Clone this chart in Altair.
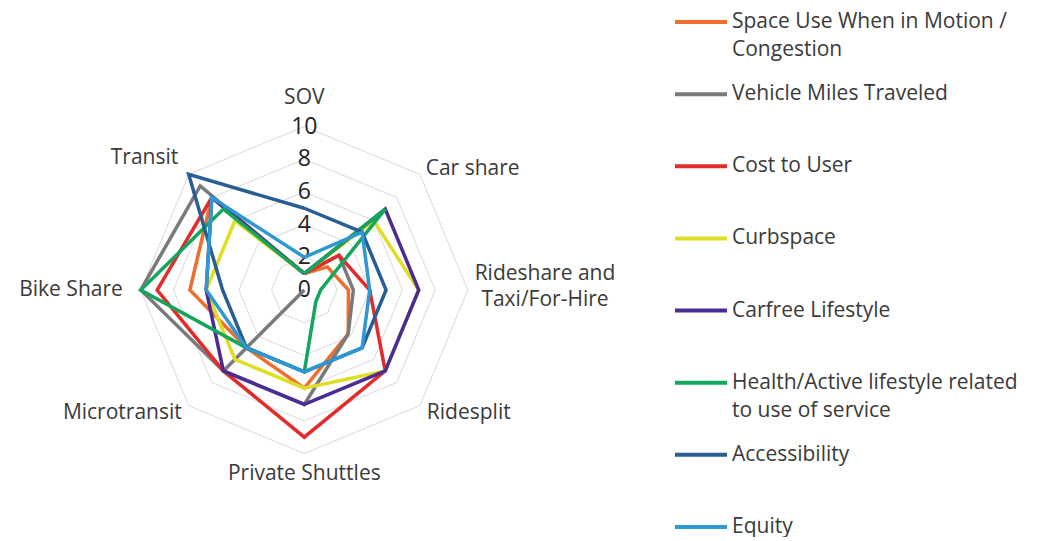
import altair as alt
import numpy as np
import pandas as pd

# ---------------- data ----------------
axes = ["SOV", "Car share", "Rideshare and\nTaxi/For-Hire", "Ridesplit",
        "Private Shuttles", "Microtransit", "Bike Share", "Transit"]

series = ["Space Use When in Motion / Congestion", "Vehicle Miles Traveled",
          "Cost to User", "Curbspace", "Carfree Lifestyle",
          "Health/Active lifestyle related to use of service",
          "Accessibility", "Equity"]
legend_line1 = ["Space Use When in Motion /", "Vehicle Miles Traveled", "Cost to User",
                "Curbspace", "Carfree Lifestyle", "Health/Active lifestyle related",
                "Accessibility", "Equity"]
legend_line2 = ["Congestion", "", "", "", "", "to use of service", "", ""]

space_use = [1, 2, 2.7, 3.8, 6, 5, 7, 8]
vmt = [1, 3, 3, 3.8, 7, 7, 10, 9]
cost_to_user = [1, 3, 4, 7, 9, 7, 9, 8]
curbspace = [1, 6, 7, 7, 6, 6, 6, 6]
carfree = [1, 7, 7, 7, 7, 7, 6, 8]
health = [1, 7, 1, 1, 5, 5, 10, 7]
accessibility = [5, 5, 5, 5, 5, 5, 5, 10]
equity = [2, 5, 4, 5, 5, 5, 6, 8]

ticks = [0, 2, 4, 6, 8, 10]

# ---------------- style ----------------
colors = ["#EE6F2D", "#7A7A7A", "#E32B2B", "#DEDE24", "#4B2B96",
          "#14A65C", "#295E92", "#2D98D4"]
TEXT = "#3a3a3a"
FONT = "Open Sans"
FS = 21
UNIT = 16.35           # px per value unit
W, H = 1027, 525
CX, CY = 296.3, 282.0  # centre of radar inside the view (px)

# label placement style: radius (value units), alignment, vertical nudge (px)
label_style = {
    "SOV": (11.75, "center", 0), "Car share": (10.5, "left", 0),
    "Rideshare and\nTaxi/For-Hire": (14.72, "center", -16), "Ridesplit": (10.6, "left", 0),
    "Private Shuttles": (11.25, "center", 0), "Microtransit": (10.6, "right", 0),
    "Bike Share": (11.1, "right", 0), "Transit": (10.9, "right", -6),
}

all_vals = [space_use, vmt, cost_to_user, curbspace, carfree, health, accessibility, equity]
n = len(axes)
theta = np.arange(n) * 2 * np.pi / n

rows = []
for s, vals in zip(series, all_vals):
    for k in range(n + 1):
        i = k % n
        rows.append({"series": s, "k": k, "r": vals[i],
                     "x": vals[i] * np.sin(theta[i]), "y": vals[i] * np.cos(theta[i])})
radar = pd.DataFrame(rows)

grid_rows = []
for v in ticks[1:]:
    for k in range(n + 1):
        i = k % n
        grid_rows.append({"ring": v, "k": k, "x": v * np.sin(theta[i]), "y": v * np.cos(theta[i])})
grid = pd.DataFrame(grid_rows)

# gray spoke from centre to VMT Microtransit point
mi = axes.index("Microtransit")
spoke = pd.DataFrame({"k": [0, 1], "series": series[1],
                      "x": [0, vmt[mi] * np.sin(theta[mi])],
                      "y": [0, vmt[mi] * np.cos(theta[mi])]})

tick_df = pd.DataFrame({"t": ticks, "x": [0] * len(ticks), "y": ticks})

leg = pd.DataFrame({"series": series, "l1": legend_line1, "l2": legend_line2,
                    "idx": list(range(len(series)))})

# ---------------- scales ----------------
xs = alt.Scale(domain=[-CX / UNIT, (W - CX) / UNIT], nice=False, zero=False)
ys = alt.Scale(domain=[-(H - CY) / UNIT, CY / UNIT], nice=False, zero=False)
cs = alt.Scale(domain=series, range=colors)

X = alt.X("x:Q", scale=xs, axis=None)
Y = alt.Y("y:Q", scale=ys, axis=None)

grid_layer = alt.Chart(grid).mark_line(color="#d9d9d9", strokeWidth=1).encode(
    x=X, y=Y, detail="ring:N", order="k:Q")

spoke_layer = alt.Chart(spoke).mark_line(strokeWidth=3.5).encode(
    x=X, y=Y, order="k:Q", color=alt.Color("series:N", scale=cs, legend=None))

radar_layer = alt.Chart(radar).mark_line(strokeWidth=3.5, strokeJoin="miter").encode(
    x=X, y=Y, order="k:Q",
    color=alt.Color("series:N", scale=cs, legend=None, sort=series))

tick_layer = alt.Chart(tick_df).mark_text(
    font=FONT, fontSize=23, color="#222222", align="center", baseline="middle").encode(
    x=X, y=Y, text="t:Q")

label_layers = []
for i, a in enumerate(axes):
    rr, al, ddy = label_style[a]
    sub = pd.DataFrame({"label": [a], "x": [rr * np.sin(theta[i])], "y": [rr * np.cos(theta[i])]})
    label_layers.append(
        alt.Chart(sub).mark_text(font=FONT, fontSize=FS, color=TEXT, align=al, dy=ddy,
                                 baseline="middle", lineBreak="\n", lineHeight=26).encode(
            x=X, y=Y, text="label:N"))

LY = alt.Y("idx:Q", scale=alt.Scale(domain=[0, 7], range=[14, 519]), axis=None)
leg_rule = alt.Chart(leg).mark_rule(strokeWidth=4).encode(
    x=alt.value(667), x2=alt.value(719), y=LY,
    color=alt.Color("series:N", scale=cs, legend=None))
leg_t1 = alt.Chart(leg).mark_text(font=FONT, fontSize=FS, color=TEXT, align="left",
                                  baseline="middle").encode(
    x=alt.value(724), y=LY, text="l1:N")
leg_t2 = alt.Chart(leg[leg["l2"] != ""]).mark_text(font=FONT, fontSize=FS, color=TEXT,
                                                   align="left", baseline="middle", dy=28).encode(
    x=alt.value(724), y=LY, text="l2:N")

chart = alt.layer(grid_layer, tick_layer, spoke_layer, radar_layer, *label_layers,
                  leg_rule, leg_t1, leg_t2).resolve_scale(y="independent").properties(
    width=W, height=H, padding=0, background="white"
).configure_view(stroke=None)

chart.save("out.html", embed_options={"renderer": "svg", "actions": False})
